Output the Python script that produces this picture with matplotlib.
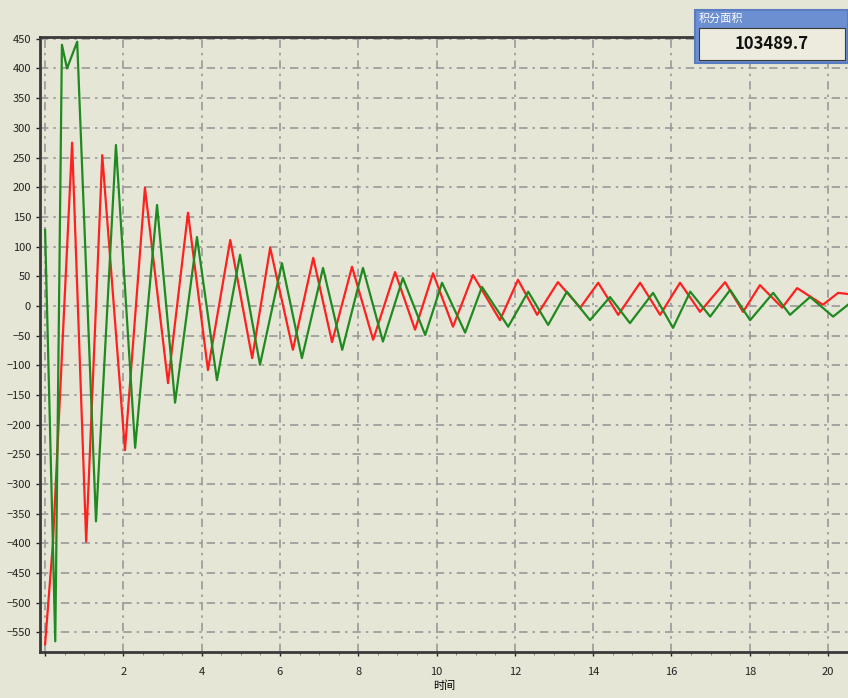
import matplotlib
matplotlib.use('Agg')
import matplotlib.pyplot as plt
from matplotlib.patches import Rectangle
import matplotlib.ticker as ticker

plt.rcParams['font.family'] = ['Noto Sans CJK SC', 'DejaVu Sans']

# Curva vermelha: pontos (tempo, valor)
red_t = [0.00, 0.20, 0.69, 1.05, 1.46, 2.04, 2.55, 3.14, 3.65, 4.16, 4.73, 5.29,
         5.75, 6.33, 6.85, 7.33, 7.84, 8.38, 8.94, 9.45, 9.91, 10.42, 10.93,
         11.62, 12.08, 12.57, 13.10, 13.67, 14.13, 14.64, 15.20, 15.71, 16.22,
         16.73, 17.37, 17.83, 18.26, 18.83, 19.21, 19.87, 20.26, 20.51]
red_v = [-570, -400, 275, -397, 254, -243, 199, -130, 157, -108, 111, -88,
         98, -74, 81, -61, 66, -57, 57, -40, 55, -35, 52,
         -24, 44, -15, 40, -3, 39, -15, 39, -15, 39,
         -10, 40, -10, 35, -3, 30, 2, 22, 20]

# Curva verde
green_t = [0.00, 0.26, 0.43, 0.56, 0.82, 1.30, 1.81, 2.30, 2.86, 3.32, 3.88, 4.39,
           4.98, 5.49, 6.05, 6.56, 7.10, 7.59, 8.12, 8.63, 9.14, 9.71, 10.14,
           10.73, 11.16, 11.83, 12.34, 12.85, 13.33, 13.92, 14.43, 14.94, 15.53,
           16.04, 16.48, 16.99, 17.50, 18.01, 18.60, 19.03, 19.54, 20.13, 20.51]
green_v = [128, -565, 440, 400, 445, -363, 271, -239, 170, -163, 116, -125,
           86, -99, 72, -88, 64, -74, 64, -60, 47, -49, 39,
           -45, 32, -35, 24, -32, 24, -24, 15, -29, 22,
           -37, 24, -18, 27, -24, 22, -15, 15, -18, 2]

x_ticks = [0, 2, 4, 6, 8, 10, 12, 14, 16, 18, 20]
x_labels = ['', '2', '4', '6', '8', '10', '12', '14', '16', '18', '20']
y_ticks = list(range(-550, 451, 50))

area_title = '积分面积'
area_value = '103489.7'

bg = '#e6e6d6'
fig = plt.figure(figsize=(8.48, 6.98), dpi=100, facecolor=bg)
ax = fig.add_axes([40/848, 46/698, 1 - 40/848, 615/698], facecolor=bg)

ax.plot(red_t, red_v, color='#ff2020', lw=1.6, solid_joinstyle='round')
ax.plot(green_t, green_v, color='#1f8a1f', lw=1.6, solid_joinstyle='round')

ax.set_xlim(-0.13, 20.51)
ax.set_ylim(-583, 453)

ax.set_xticks(x_ticks)
ax.set_xticklabels(x_labels)
ax.xaxis.set_minor_locator(ticker.MultipleLocator(0.5))
ax.set_yticks(y_ticks)
ax.tick_params(axis='both', labelsize=8, colors='#222222', length=3, width=1)
ax.tick_params(axis='x', which='minor', length=2, color='#777777')
ax.tick_params(axis='x', pad=8)

ax.grid(True, which='major', color='#999999', lw=1.2, linestyle=(0, (5, 3, 1.5, 3)))

for s in ['left', 'bottom', 'top']:
    ax.spines[s].set_color('#3a3a3a')
    ax.spines[s].set_linewidth(2)
ax.spines['right'].set_visible(False)

ax.set_xlabel('时间', fontsize=8, labelpad=2)

# Caixa de informação no canto superior direito
W, H = 848, 698
box = Rectangle((695/W, 1 - 63/H), 153/W, 53/H, transform=fig.transFigure,
                facecolor='#6b8fd0', edgecolor='#5a7cc0', lw=1.5, zorder=10)
inner = Rectangle((699/W, 1 - 60/H), 146/W, 32/H, transform=fig.transFigure,
                  facecolor='#ecebde', edgecolor='#3a3a3a', lw=0.8, zorder=11)
fig.patches.extend([box, inner])
fig.text(699/W, 1 - 19/H, area_title, fontsize=8, color='white', va='center',
         ha='left', zorder=12)
fig.text(772/W, 1 - 44/H, area_value, fontsize=12, color='#111111', va='center',
         ha='center', fontweight='bold', zorder=12)

fig.savefig('out.png', dpi=100, facecolor=bg)
